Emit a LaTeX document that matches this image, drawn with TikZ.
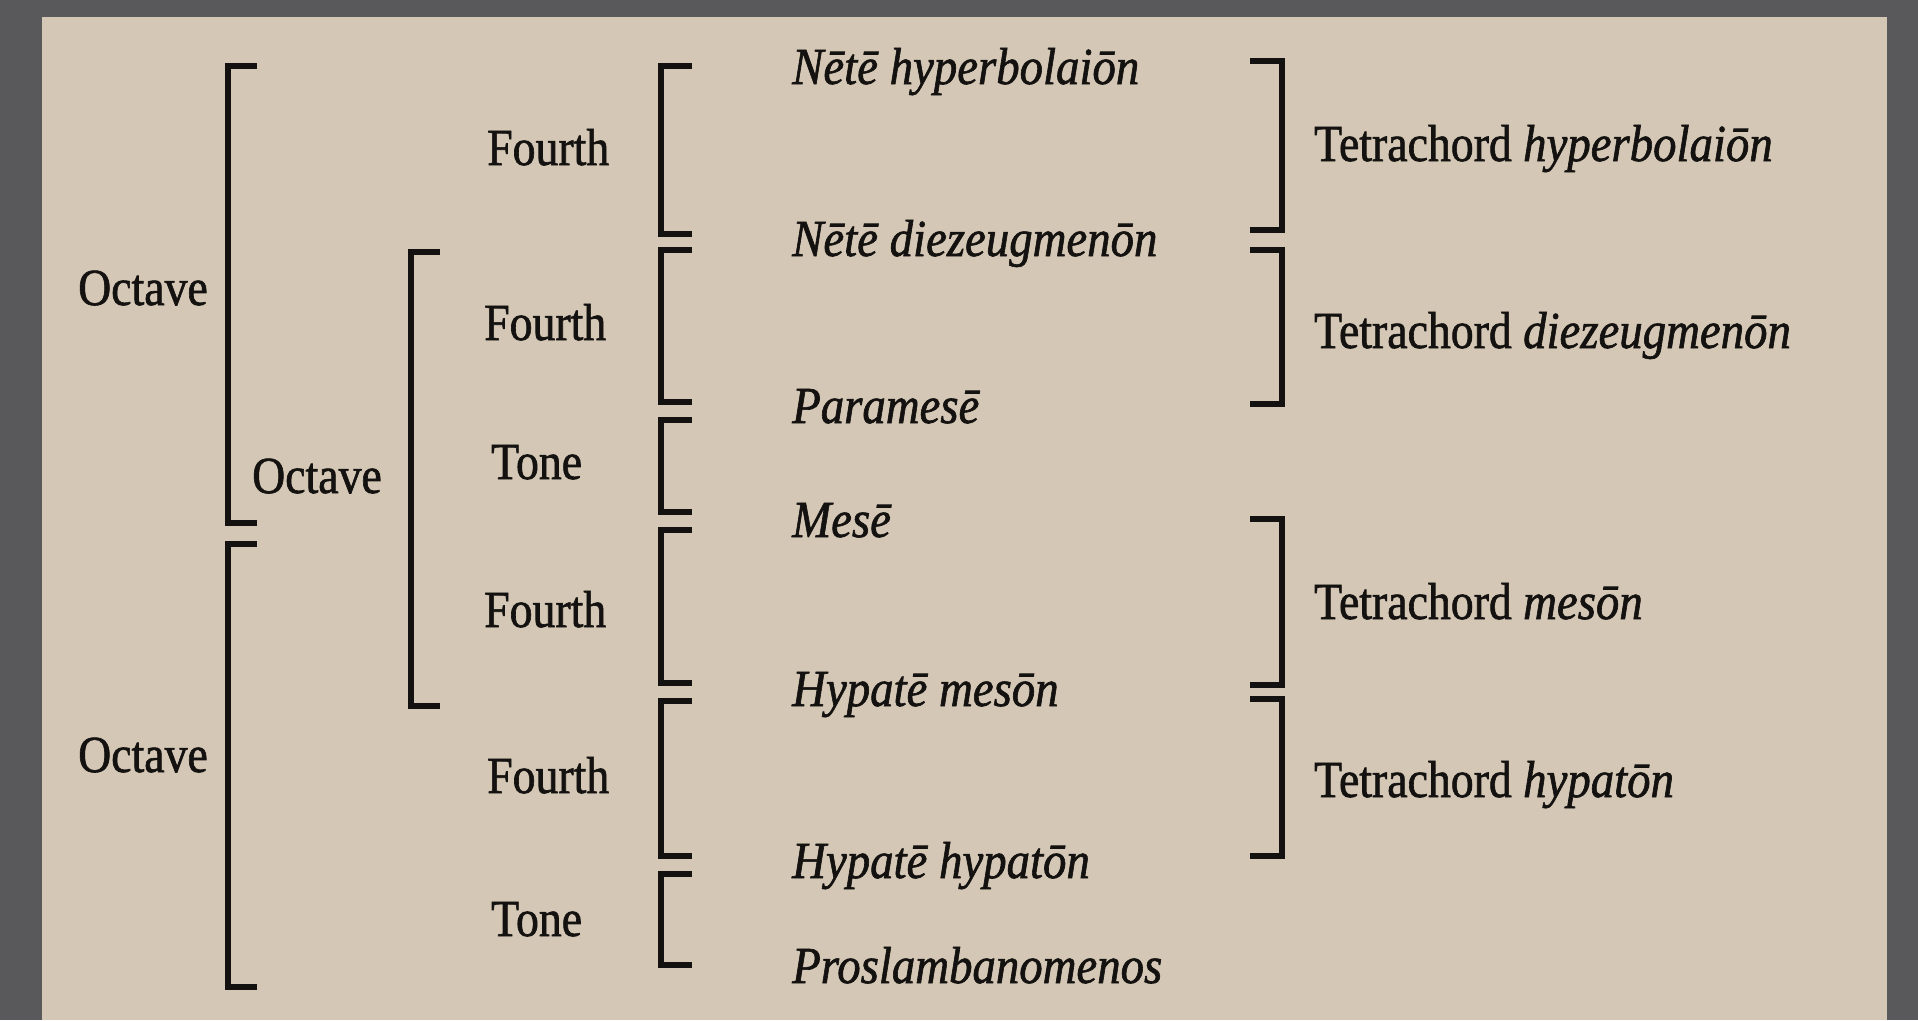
\documentclass[tikz,border=0pt]{standalone}
\usepackage{fontspec}
\setmainfont[FakeStretch=0.88,FakeBold=1.2,ItalicFeatures={FakeStretch=0.9,FakeBold=1.2}]{Liberation Serif}
\definecolor{frame}{HTML}{59595B}
\definecolor{paper}{HTML}{D4C7B5}
\definecolor{ink}{HTML}{141210}
\begin{document}
\begin{tikzpicture}[x=1pt,y=-1pt,
  lbl/.style={anchor=base west,inner sep=0pt,text=ink,font=\fontsize{52}{60}\selectfont},
  nm/.style={lbl,font=\fontsize{52}{60}\selectfont\itshape},
  brk/.style={draw=ink,line width=5.5pt,line cap=butt,line join=miter}]
\useasboundingbox (0,0) rectangle (1918,1020);
\fill[frame] (0,0) rectangle (1918,1020);
\fill[paper] (42,17) rectangle (1887,1020);
% outer octaves
\node[lbl] (oct1) at (78,305) {Octave};
\node[lbl] (oct3) at (78,772) {Octave};
\node[lbl] (oct2) at (252,493) {Octave};
% intervals
\node[lbl] (f1) at (487,165) {Fourth};
\node[lbl] (f2) at (484,340) {Fourth};
\node[lbl] (t1) at (491,479) {Tone};
\node[lbl] (f3) at (484,627) {Fourth};
\node[lbl] (f4) at (487,793) {Fourth};
\node[lbl] (t2) at (491,936) {Tone};
% notes
\node[nm] (n1) at (792,84) {Nētē hyperbolaiōn};
\node[nm] (n2) at (792,256) {Nētē diezeugmenōn};
\node[nm] (n3) at (792,423) {Paramesē};
\node[nm] (n4) at (792,537) {Mesē};
\node[nm] (n5) at (792,706) {Hypatē mesōn};
\node[nm] (n6) at (792,878) {Hypatē hypatōn};
\node[nm] (n7) at (792,983) {Proslambanomenos};
% tetrachords
\node[lbl] (tc1) at (1314,161) {Tetrachord \textit{hyperbolaiōn}};
\node[lbl] (tc2) at (1314,348) {Tetrachord \textit{diezeugmenōn}};
\node[lbl] (tc3) at (1314,619) {Tetrachord \textit{mesōn}};
\node[lbl] (tc4) at (1314,797) {Tetrachord \textit{hypatōn}};
% outer brackets
\draw[brk] (257,66) -- (228,66) -- (228,523) -- (257,523);
\draw[brk] (257,544) -- (228,544) -- (228,987) -- (257,987);
% second level
\draw[brk] (440,252) -- (411,252) -- (411,706) -- (440,706);
% third level left
\foreach \a/\b in {66/234,250/402,420/512,530/683,701/856,874/965}{
  \draw[brk] (692,\a) -- (661,\a) -- (661,\b) -- (692,\b);
}
% right brackets
\foreach \a/\b in {61/230,250/404,519/685,699/856}{
  \draw[brk] (1250,\a) -- (1282,\a) -- (1282,\b) -- (1250,\b);
}
\end{tikzpicture}
\end{document}
